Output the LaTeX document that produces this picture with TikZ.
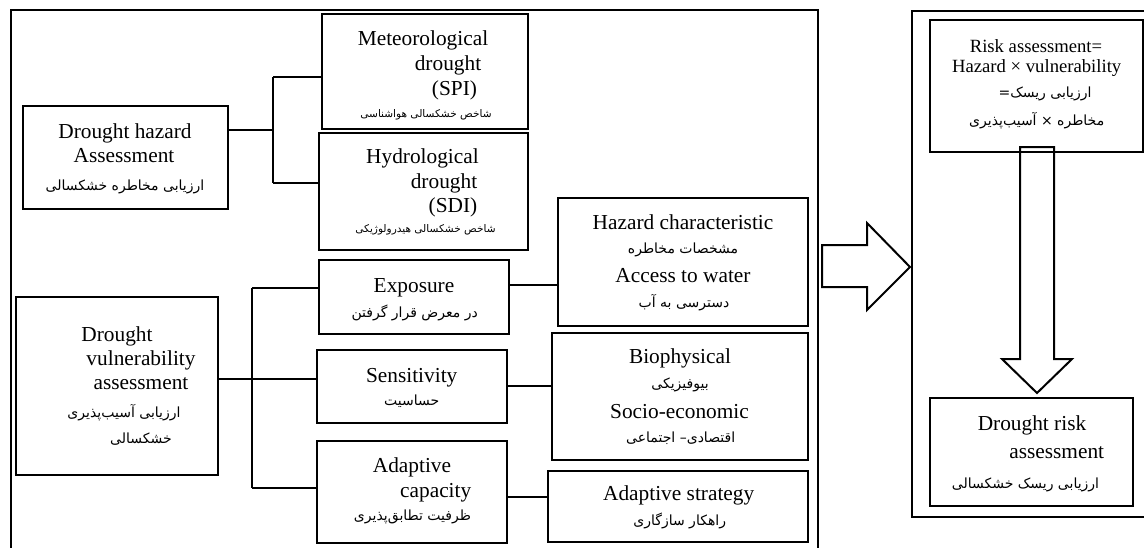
\documentclass[tikz,border=0pt]{standalone}
\usepackage{fontspec}
\setmainfont{Liberation Serif}
\newfontfamily\farsi[Script=Arabic]{DejaVu Sans}
\TeXXeTstate=1
\newcommand\mkbox[6][box]{\node[#1, minimum width={(#5-#3)*0.75pt}, minimum height={(#6-#4)*0.75pt}] (#2) at ({(#3+#5)/2},{(#4+#6)/2}) {};}
\begin{document}
\begin{tikzpicture}[x=0.75pt,y=-0.75pt,
  box/.style={draw, line width=1.5pt, inner sep=0pt},
  frame/.style={draw, line width=1.6pt, inner sep=0pt},
  link/.style={line width=0.9pt},
  en/.style={font=\fontsize{16}{18}\selectfont, anchor=base, inner sep=0pt},
  ens/.style={font=\fontsize{14}{16}\selectfont, anchor=base, inner sep=0pt},
  fa/.style={font=\farsi\fontsize{10.5}{12}\selectfont, anchor=base, inner sep=0pt},
  fas/.style={font=\farsi\fontsize{7.9}{10}\selectfont, anchor=base, inner sep=0pt},
  bigarrow/.style={draw, line width=1.5pt, line join=miter}]
\useasboundingbox (0,0) rectangle (1144,547);
\clip (0,0) rectangle (1144,547);
% frames
\mkbox[frame]{leftframe}{11}{10}{818}{570}
\mkbox[frame]{rightframe}{912}{11}{1170}{517}
% boxes
\mkbox{hazard}{23}{106}{228}{209}
\mkbox{meteo}{322}{14}{528}{129}
\mkbox{hydro}{319}{133}{528}{250}
\mkbox{hazchar}{558}{198}{808}{326}
\mkbox{exposure}{319}{260}{509}{334}
\mkbox{sensitivity}{317}{350}{507}{423}
\mkbox{adaptive}{317}{441}{507}{543}
\mkbox{bio}{552}{333}{808}{460}
\mkbox{strategy}{548}{471}{808}{542}
\mkbox{vuln}{16}{297}{218}{475}
\mkbox{risk}{930}{20}{1143}{152}
\mkbox{drisk}{930}{398}{1133}{506}
% texts
\node[en] (t1) at (125,138) {Drought hazard};
\node[en] (t2) at (124,162) {Assessment};
\node[fa] (t3) at (125,190) {\beginR ارزیابی مخاطره خشکسالی\endR};
\node[en] (t4) at (423,45) {Meteorological};
\node[en] (t5) at (448,70) {drought};
\node[en] (t6) at (454.5,95) {(SPI)};
\node[fas] (t7) at (426,117) {\beginR شاخص خشکسالی هواشناسی\endR};
\node[en] (t8) at (422.5,163) {Hydrological};
\node[en] (t9) at (444,188) {drought};
\node[en] (t10) at (453,212) {(SDI)};
\node[fas] (t11) at (425.5,232) {\beginR شاخص خشکسالی هیدرولوژیکی\endR};
\node[en] (t12) at (683,229) {Hazard characteristic};
\node[fa] (t13) at (683,253) {\beginR مشخصات مخاطره\endR};
\node[en] (t14) at (683,282) {Access to water};
\node[fa] (t15) at (684,307) {\beginR دسترسی به آب\endR};
\node[en] (t16) at (414,292) {Exposure};
\node[fa] (t17) at (414.7,317) {\beginR در معرض قرار گرفتن\endR};
\node[en] (t18) at (411.7,382) {Sensitivity};
\node[fa] (t19) at (411.7,405) {\beginR حساسیت\endR};
\node[en] (t20) at (412,472) {Adaptive};
\node[en] (t21) at (435.7,497) {capacity};
\node[fa] (t22) at (412.5,520) {\beginR ظرفیت تطابق‌پذیری\endR};
\node[en] (t23) at (680,363) {Biophysical};
\node[fa] (t24) at (680,388) {\beginR بیوفیزیکی\endR};
\node[en] (t25) at (679.5,418) {Socio-economic};
\node[fa] (t26) at (680.7,442) {\beginR اقتصادی– اجتماعی\endR};
\node[en] (t27) at (678.7,500) {Adaptive strategy};
\node[fa] (t28) at (679.7,525) {\beginR راهکار سازگاری\endR};
\node[en] (t29) at (117,341) {Drought};
\node[en] (t30) at (141,365) {vulnerability};
\node[en] (t31) at (141,389) {assessment};
\node[fa] (t32) at (124,417) {\beginR ارزیابی آسیب‌پذیری\endR};
\node[fa] (t33) at (141,443) {\beginR خشکسالی\endR};
\node[ens] (t34) at (1036,52) {Risk assessment=};
\node[ens] (t35) at (1036.7,72) {Hazard × vulnerability};
\node[fa] (t36) at (1045,97) {\beginR ارزیابی ریسک=\endR};
\node[fa] (t37) at (1036.7,125) {\beginR مخاطره × آسیب‌پذیری\endR};
\node[en] (t38) at (1032,430) {Drought risk};
\node[en] (t39) at (1056.7,458) {assessment};
\node[fa] (t40) at (1025.5,488) {\beginR ارزیابی ریسک خشکسالی\endR};
% connectors: hazard
\coordinate (ja) at (273,130);
\coordinate (jatop) at (273,77);
\coordinate (jabot) at (273,183);
\draw[link] (hazard.east |- ja) -- (ja);
\draw[link] (jatop) -- (jabot);
\draw[link] (jatop) -- (meteo.west |- jatop);
\draw[link] (jabot) -- (hydro.west |- jabot);
% connectors: vulnerability
\coordinate (jb) at (252,379);
\coordinate (jbtop) at (252,288);
\coordinate (jbbot) at (252,488);
\draw[link] (vuln.east |- jb) -- (sensitivity.west |- jb);
\draw[link] (jbtop) -- (jbbot);
\draw[link] (jbtop) -- (exposure.west |- jbtop);
\draw[link] (jbbot) -- (adaptive.west |- jbbot);
% right-hand links
\coordinate (jc) at (530,285);
\coordinate (jd) at (530,386);
\coordinate (je) at (530,497);
\draw[link] (exposure.east |- jc) -- (hazchar.west |- jc);
\draw[link] (sensitivity.east |- jd) -- (bio.west |- jd);
\draw[link] (adaptive.east |- je) -- (strategy.west |- je);
% big arrows
\draw[bigarrow] (822,245) -- (867,245) -- (867,223) -- (910,267) -- (867,310) -- (867,287) -- (822,287) -- cycle;
\draw[bigarrow] (1020,147) -- (1054,147) -- (1054,359) -- (1072,359) -- (1037,393) -- (1002,359) -- (1020,359) -- cycle;
\end{tikzpicture}
\end{document}
